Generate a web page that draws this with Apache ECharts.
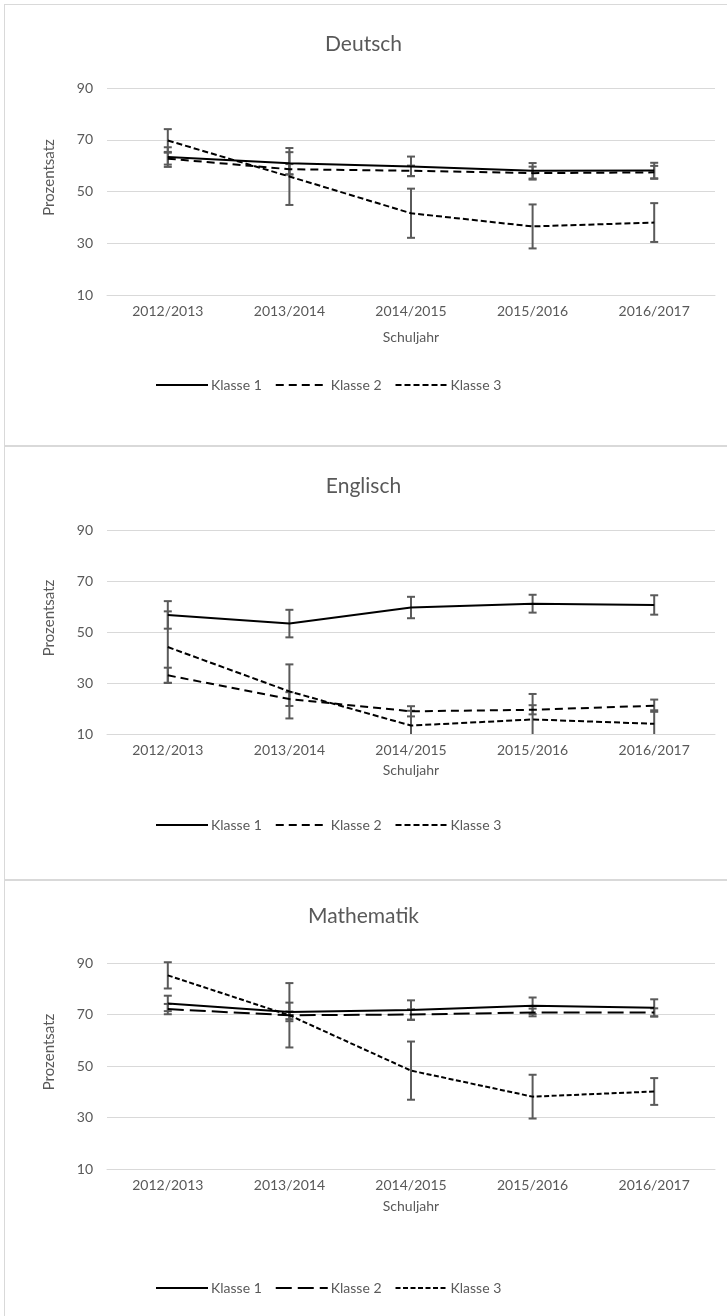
<!DOCTYPE html>
<html>
<head>
<meta charset="utf-8">
<script src="https://cdn.jsdelivr.net/npm/echarts@6/dist/echarts.min.js"></script>
<style>
  html, body { margin: 0; padding: 0; background: #ffffff; }
  body { width: 727px; height: 1316px; position: relative; overflow: hidden; }
  .panel { position: absolute; left: 0; width: 727px; }
  .frame { position: absolute; background: #d9d9d9; }
</style>
</head>
<body>
<div class="frame" style="left:4px;top:4px;width:1px;height:1312px;"></div>
<div class="frame" style="left:4px;top:4px;width:723px;height:1px;"></div>
<div class="frame" style="left:4px;top:445px;width:723px;height:2px;"></div>
<div class="frame" style="left:4px;top:879px;width:723px;height:2px;"></div>
<div id="deutsch" class="panel" style="top:0px;height:445px;"></div>
<div id="englisch" class="panel" style="top:445px;height:434px;"></div>
<div id="mathematik" class="panel" style="top:879px;height:437px;"></div>
<script>
// School years on the x axis and the three classes
const categories = ['2012/2013', '2013/2014', '2014/2015', '2015/2016', '2016/2017'];
const classNames = ['Klasse 1', 'Klasse 2', 'Klasse 3'];
const yTicks = [10, 30, 50, 70, 90];

// Deutsch: mean percentages and error half-widths
const deutschKlasse1 = [63.3, 60.9, 59.7, 58.0, 58.1];
const deutschKlasse2 = [62.7, 58.6, 58.0, 57.1, 57.4];
const deutschKlasse3 = [69.7, 55.8, 41.6, 36.5, 38.0];
const deutschFehler1 = [3.8, 4.3, 3.8, 3.0, 3.0];
const deutschFehler2 = [2.3, 2.0, 2.0, 2.5, 2.5];
const deutschFehler3 = [4.4, 11.0, 9.5, 8.5, 7.5];

// Englisch
const englischKlasse1 = [56.7, 53.3, 59.6, 61.1, 60.6];
const englischKlasse2 = [33.0, 23.7, 18.9, 19.5, 21.1];
const englischKlasse3 = [44.1, 26.7, 13.3, 15.7, 14.0];
const englischFehler1 = [5.4, 5.4, 4.2, 3.5, 3.8];
const englischFehler2 = [3.0, 2.7, 2.0, 1.8, 2.4];
const englischFehler3 = [14.0, 10.6, 5.8, 10.0, 5.3];

// Mathematik
const mathematikKlasse1 = [74.3, 71.0, 71.7, 73.4, 72.6];
const mathematikKlasse2 = [72.1, 69.7, 70.0, 70.8, 70.8];
const mathematikKlasse3 = [85.2, 69.7, 48.2, 38.1, 40.1];
const mathematikFehler1 = [3.0, 3.6, 3.8, 3.2, 3.3];
const mathematikFehler2 = [2.0, 1.5, 2.0, 1.5, 1.6];
const mathematikFehler3 = [5.1, 12.5, 11.3, 8.5, 5.2];

const TEXT = '#595959';
const GRID = '#d9d9d9';
const FONT = 'Lato';
const Y_MIN = yTicks[0];

// error bar: vertical whisker with caps; the part below the axis minimum is cut off
function errorBarItem(params, api) {
  const x = api.value(0);
  const lowVal = api.value(1);
  const clipped = lowVal < Y_MIN;
  const lo = api.coord([x, clipped ? Y_MIN : lowVal]);
  const hi = api.coord([x, api.value(2)]);
  const half = 4;
  const style = { stroke: '#5a5a5a', lineWidth: 2 };
  const children = [
    { type: 'line', shape: { x1: lo[0], y1: lo[1], x2: hi[0], y2: hi[1] }, style: style },
    { type: 'line', shape: { x1: hi[0] - half, y1: hi[1], x2: hi[0] + half, y2: hi[1] }, style: style }
  ];
  if (!clipped) {
    children.push({ type: 'line', shape: { x1: lo[0] - half, y1: lo[1], x2: lo[0] + half, y2: lo[1] }, style: style });
  }
  return { type: 'group', children: children };
}

function buildOption(cfg) {
  const series = [];
  cfg.values.forEach(function (vals, k) {
    series.push({
      name: classNames[k] + ' Fehler',
      type: 'custom',
      renderItem: errorBarItem,
      clip: false,
      z: 1,
      silent: true,
      encode: { x: 0, y: [1, 2] },
      data: vals.map(function (v, i) { return [i, v - cfg.errors[k][i], v + cfg.errors[k][i]]; })
    });
  });
  cfg.values.forEach(function (vals, k) {
    series.push({
      name: classNames[k],
      type: 'line',
      symbol: 'none',
      showSymbol: false,
      z: 3,
      lineStyle: { color: '#000000', width: 2, type: cfg.dashes[k], cap: 'butt' },
      itemStyle: { color: '#000000' },
      data: vals
    });
  });
  return {
    animation: false,
    textStyle: { fontFamily: FONT },
    title: {
      text: cfg.title,
      left: 'center',
      top: cfg.titleTop,
      padding: 0,
      textStyle: { color: TEXT, fontFamily: FONT, fontSize: 21, fontWeight: 'normal' }
    },
    legend: {
      data: classNames,
      top: cfg.legendTop,
      left: 155,
      padding: 0,
      itemWidth: 52,
      itemHeight: 14,
      itemGap: 13,
      itemStyle: { opacity: 0 },
      textStyle: { color: TEXT, fontFamily: FONT, fontSize: 14, padding: [0, 0, 0, -2] }
    },
    grid: { left: 107, width: 608, top: cfg.gridTop, height: cfg.gridHeight },
    xAxis: {
      type: 'category',
      data: categories,
      boundaryGap: true,
      name: 'Schuljahr',
      nameLocation: 'middle',
      nameGap: cfg.nameGap,
      nameTextStyle: { color: TEXT, fontFamily: FONT, fontSize: 14 },
      axisLine: { show: true, lineStyle: { color: GRID, width: 1 } },
      axisTick: { show: false },
      axisLabel: { color: TEXT, fontFamily: FONT, fontSize: 14, margin: 9 }
    },
    yAxis: {
      type: 'value',
      min: Y_MIN,
      max: yTicks[yTicks.length - 1],
      interval: 20,
      name: 'Prozentsatz',
      nameLocation: 'middle',
      nameGap: 50,
      nameTextStyle: { color: TEXT, fontFamily: FONT, fontSize: 15, padding: [0, 0, 0, 28] },
      axisLine: { show: false },
      axisTick: { show: false },
      axisLabel: { color: TEXT, fontFamily: FONT, fontSize: 14, margin: 14 },
      splitLine: { lineStyle: { color: GRID, width: 1 } }
    },
    series: series
  };
}

const panels = [
  {
    id: 'deutsch', title: 'Deutsch', titleTop: 34, legendTop: 378,
    gridTop: 88, gridHeight: 207, nameGap: 35,
    values: [deutschKlasse1, deutschKlasse2, deutschKlasse3],
    errors: [deutschFehler1, deutschFehler2, deutschFehler3],
    dashes: ['solid', [8, 5], [6, 3]]
  },
  {
    id: 'englisch', title: 'Englisch', titleTop: 31, legendTop: 373,
    gridTop: 85, gridHeight: 204, nameGap: 29,
    values: [englischKlasse1, englischKlasse2, englischKlasse3],
    errors: [englischFehler1, englischFehler2, englischFehler3],
    dashes: ['solid', [8, 5], [6, 3]]
  },
  {
    id: 'mathematik', title: 'Mathematik', titleTop: 27, legendTop: 402,
    gridTop: 84, gridHeight: 206, nameGap: 30,
    values: [mathematikKlasse1, mathematikKlasse2, mathematikKlasse3],
    errors: [mathematikFehler1, mathematikFehler2, mathematikFehler3],
    dashes: ['solid', [16, 6], [5, 2.5]]
  }
];

panels.forEach(function (p) {
  const chart = echarts.init(document.getElementById(p.id), null, { renderer: 'canvas' });
  chart.setOption(buildOption(p));
});
</script>
</body>
</html>
